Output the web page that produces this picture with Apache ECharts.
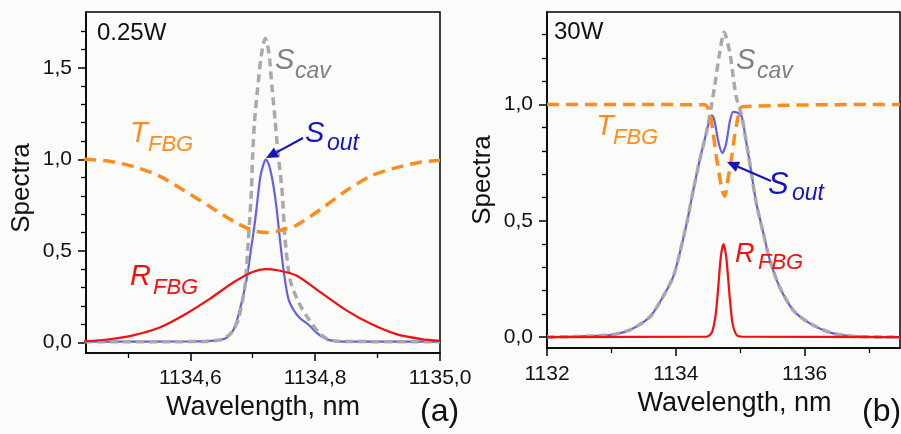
<!DOCTYPE html>
<html><head><meta charset="utf-8">
<script src="https://cdn.jsdelivr.net/npm/echarts@6/dist/echarts.min.js"></script>
<style>html,body{margin:0;padding:0;background:#fbfbf9}#c{width:901px;height:434px}</style>
</head><body><div id="c"></div>
<script>
// ---------- Panel (a): 0.25 W ----------
const aFbgWl   = [1134.43, 1134.47, 1134.51, 1134.55, 1134.59, 1134.63, 1134.67, 1134.70, 1134.72, 1134.74, 1134.77, 1134.81, 1134.85, 1134.89, 1134.93, 1134.97, 1135.0];
const aRfbg    = [0.006, 0.017, 0.04, 0.08, 0.15, 0.235, 0.33, 0.385, 0.40, 0.394, 0.365, 0.27, 0.175, 0.10, 0.045, 0.018, 0.008];
const aTfbg    = [1.0, 0.99, 0.96, 0.91, 0.83, 0.745, 0.66, 0.612, 0.60, 0.608, 0.64, 0.73, 0.83, 0.91, 0.955, 0.985, 0.995];
const aOutWl   = [1134.43, 1134.60, 1134.64, 1134.655, 1134.665, 1134.673, 1134.682, 1134.69, 1134.697, 1134.704, 1134.712, 1134.717, 1134.721, 1134.726, 1134.732, 1134.738, 1134.744, 1134.75, 1134.757, 1134.765, 1134.775, 1134.79, 1134.80, 1134.81, 1134.82, 1134.835, 1134.9, 1135.0];
const aSout    = [0.004, 0.005, 0.01, 0.02, 0.045, 0.10, 0.215, 0.34, 0.50, 0.67, 0.90, 0.97, 1.0, 0.97, 0.88, 0.74, 0.55, 0.38, 0.24, 0.18, 0.135, 0.095, 0.06, 0.033, 0.015, 0.006, 0.004, 0.004];
const aCavWl   = [1134.43, 1134.62, 1134.65, 1134.665, 1134.677, 1134.688, 1134.693, 1134.698, 1134.70, 1134.703, 1134.708, 1134.713, 1134.717, 1134.72, 1134.723, 1134.727, 1134.731, 1134.736, 1134.740, 1134.747, 1134.752, 1134.76, 1134.774, 1134.79, 1134.806, 1134.82, 1134.84, 1135.0];
const aScav    = [0.003, 0.005, 0.015, 0.05, 0.125, 0.32, 0.56, 0.83, 1.03, 1.21, 1.39, 1.55, 1.63, 1.66, 1.64, 1.55, 1.39, 1.21, 1.05, 0.83, 0.56, 0.34, 0.216, 0.125, 0.053, 0.018, 0.006, 0.003];

// ---------- Panel (b): 30 W ----------
const bRWl     = [1132, 1134.48, 1134.56, 1134.62, 1134.66, 1134.70, 1134.74, 1134.78, 1134.81, 1134.84, 1134.88, 1134.94, 1135.02, 1137.48];
const bRfbg    = [0, 0.002, 0.02, 0.10, 0.22, 0.35, 0.40, 0.35, 0.26, 0.16, 0.06, 0.01, 0.002, 0];
const bTWl     = [1132, 1134.45, 1134.53, 1134.58, 1134.63, 1134.68, 1134.72, 1134.76, 1134.81, 1134.86, 1134.91, 1134.97, 1135.03, 1137.48];
const bTfbg    = [1, 0.998, 0.96, 0.874, 0.774, 0.688, 0.63, 0.605, 0.68, 0.76, 0.86, 0.95, 0.99, 1];
const bOutWl   = [1132, 1132.5, 1133.0, 1133.3, 1133.6, 1133.8, 1133.96, 1134.06, 1134.17, 1134.27, 1134.37, 1134.475, 1134.53, 1134.56, 1134.6, 1134.66, 1134.72, 1134.78, 1134.84, 1134.89, 1134.95, 1135.02, 1135.08, 1135.15, 1135.25, 1135.36, 1135.46, 1135.61, 1135.82, 1136.08, 1136.44, 1136.85, 1137.48];
const bSout    = [0, 0.003, 0.01, 0.032, 0.087, 0.173, 0.26, 0.36, 0.49, 0.63, 0.76, 0.88, 0.94, 0.953, 0.93, 0.84, 0.79, 0.83, 0.93, 0.968, 0.965, 0.95, 0.86, 0.745, 0.574, 0.445, 0.33, 0.216, 0.116, 0.059, 0.016, 0.002, 0];
const bCavWl   = [1132, 1132.5, 1133.0, 1133.3, 1133.6, 1133.8, 1133.96, 1134.06, 1134.17, 1134.27, 1134.37, 1134.475, 1134.55, 1134.6, 1134.68, 1134.75, 1134.84, 1134.89, 1134.94, 1135.02, 1135.08, 1135.15, 1135.25, 1135.36, 1135.46, 1135.61, 1135.82, 1136.08, 1136.44, 1136.85, 1137.48];
const bScav    = [0, 0.003, 0.01, 0.032, 0.087, 0.173, 0.26, 0.36, 0.49, 0.63, 0.76, 0.88, 0.99, 1.074, 1.22, 1.31, 1.22, 1.12, 1.03, 0.955, 0.86, 0.745, 0.574, 0.445, 0.33, 0.216, 0.116, 0.059, 0.016, 0.002, 0];

// ---------- Ticks ----------
const aXTicks = [1134.6, 1134.8, 1135.0];
const aXTickLabels = ['1134,6', '1134,8', '1135,0'];
const aXMinor = [1134.5, 1134.7, 1134.9];
const aYTicks = [0, 0.5, 1.0, 1.5];
const aYTickLabels = ['0,0', '0,5', '1,0', '1,5'];
const aYMinor = [0.1, 0.2, 0.3, 0.4, 0.6, 0.7, 0.8, 0.9, 1.1, 1.2, 1.3, 1.4, 1.6, 1.7];
const bXTicks = [1132, 1134, 1136];
const bXTickLabels = ['1132', '1134', '1136'];
const bXMinor = [1133, 1135, 1137];
const bYTicks = [0, 0.5, 1.0];
const bYTickLabels = ['0,0', '0,5', '1,0'];
const bYMinor = [0.1, 0.2, 0.3, 0.4, 0.6, 0.7, 0.8, 0.9, 1.1, 1.2, 1.3];

const FONT = '"Liberation Sans", Arial, sans-serif';
const C_OR = '#ff8c1a', C_RED = '#f01010', C_BLUE = '#6262e0', C_GRAY = '#a9a9a9', C_DBLUE = '#1414c0', C_TGRAY = '#808080';

function pairs(xs, ys) { return xs.map((x, i) => [x, ys[i]]); }
function lookup(vals, labels) {
  return v => { let bi = 0, bd = Infinity; vals.forEach((t, i) => { const d = Math.abs(t - v); if (d < bd) { bd = d; bi = i; } }); return labels[bi]; };
}

function xMain(g, min, max, ticks, labels, nameGap, pad, margin) {
  return { type: 'value', gridIndex: g, min, max, position: 'bottom',
    axisLine: { show: true, onZero: false, lineStyle: { color: '#000', width: 1.5 } },
    axisTick: { show: true, customValues: ticks, length: 8, lineStyle: { color: '#000', width: 1.5 } },
    axisLabel: { show: true, customValues: ticks, formatter: lookup(ticks, labels), color: '#111', fontSize: 21, fontFamily: FONT, margin },
    splitLine: { show: false },
    name: 'Wavelength, nm', nameLocation: 'middle', nameGap,
    nameTextStyle: { color: '#111', fontSize: 27, fontFamily: FONT, padding: pad } };
}
function yMain(g, min, max, ticks, labels, nameGap, pad) {
  return { type: 'value', gridIndex: g, min, max, position: 'left',
    axisLine: { show: true, onZero: false, lineStyle: { color: '#000', width: 1.5 } },
    axisTick: { show: true, customValues: ticks, length: 8, lineStyle: { color: '#000', width: 1.5 } },
    axisLabel: { show: true, customValues: ticks, formatter: lookup(ticks, labels), color: '#111', fontSize: 21, fontFamily: FONT, margin: 14 },
    splitLine: { show: false },
    name: 'Spectra', nameLocation: 'middle', nameGap,
    nameTextStyle: { color: '#111', fontSize: 26, fontFamily: FONT, padding: pad } };
}
function minorAxis(g, min, max, ticks, pos) {
  return { type: 'value', gridIndex: g, min, max, position: pos,
    axisLine: { show: false, onZero: false },
    axisTick: { show: true, customValues: ticks, length: 5, lineStyle: { color: '#000', width: 1.3 } },
    axisLabel: { show: false }, splitLine: { show: false } };
}

const aXmin = 1134.433, aXmax = 1135.0, aYmin = -0.058, aYmax = 1.805;
const bXmin = 1132, bXmax = 1137.48, bYmin = -0.047, bYmax = 1.397;

const gridA = { left: 86, top: 12, width: 354, height: 341 };
const gridB = { left: 547, top: 12, width: 353, height: 336 };
const frame = { show: true, borderColor: '#000', borderWidth: 1.5, backgroundColor: 'transparent' };

function line(xi, data, color, width, dash, z) {
  return { type: 'line', xAxisIndex: xi, yAxisIndex: xi, data, showSymbol: false, symbol: 'none',
    smooth: 0.25, z, animation: false,
    lineStyle: { color, width, type: dash || 'solid', cap: 'butt' } };
}

function txt(x, y, s, size, color, italic) {
  return { type: 'text', x: 0, y: 0, z: 100, silent: true,
    style: { x, y, text: s, fill: color, font: (italic ? 'italic ' : '') + size + 'px ' + FONT, align: 'left', verticalAlign: 'middle' } };
}
function arrow(x1, y1, x2, y2, color) {
  const a = Math.atan2(y2 - y1, x2 - x1), L = 12, W = 5.5;
  const c = Math.cos(a), s = Math.sin(a);
  const bx = x2 - L * c, by = y2 - L * s;
  return [
    { type: 'line', z: 100, silent: true, shape: { x1, y1, x2: bx, y2: by }, style: { stroke: color, lineWidth: 2 } },
    { type: 'polygon', z: 100, silent: true, shape: { points: [[x2, y2], [bx - W * s, by + W * c], [bx + W * s, by - W * c]] }, style: { fill: color } }
  ];
}

const graphics = [
  txt(97, 33.5, '0.25W', 24, '#111', false),
  txt(554, 32.5, '30W', 24, '#111', false),
  // panel a labels
  txt(275, 61, 'S', 29, C_TGRAY, true), txt(295, 72, 'cav', 23, C_TGRAY, true),
  txt(305, 134, 'S', 29, C_DBLUE, true), txt(327, 144, 'out', 23, C_DBLUE, true),
  txt(130, 134, 'T', 29, C_OR, true), txt(148, 145, 'FBG', 22, C_OR, true),
  txt(130, 277, 'R', 29, C_RED, true), txt(153, 288, 'FBG', 22, C_RED, true),
  // panel b labels
  txt(736, 61, 'S', 29, C_TGRAY, true), txt(757, 72, 'cav', 23, C_TGRAY, true),
  txt(596, 127, 'T', 29, C_OR, true), txt(613, 138, 'FBG', 22, C_OR, true),
  txt(768, 185, 'S', 31, C_DBLUE, true), txt(792, 194, 'out', 23, C_DBLUE, true),
  txt(735, 254, 'R', 27, C_RED, true), txt(758, 263, 'FBG', 22, C_RED, true),
  txt(420, 412, '(a)', 32, '#111', false),
  txt(862, 412, '(b)', 32, '#111', false),
  ...arrow(303, 138, 266, 158, C_DBLUE),
  ...arrow(771, 181, 727, 162, C_DBLUE)
];

const chart = echarts.init(document.getElementById('c'), null, { renderer: 'canvas' });
chart.setOption({
  backgroundColor: '#fbfbf9',
  animation: false,
  grid: [
    Object.assign({}, gridA, frame), Object.assign({}, gridB, frame),
    Object.assign({}, gridA, { show: false }), Object.assign({}, gridB, { show: false })
  ],
  xAxis: [
    xMain(0, aXmin, aXmax, aXTicks, aXTickLabels, 35, [0, 0, 0, 0], 15),
    xMain(1, bXmin, bXmax, bXTicks, bXTickLabels, 40, [0, 0, 0, 22], 16),
    minorAxis(2, aXmin, aXmax, aXMinor, 'bottom'),
    minorAxis(3, bXmin, bXmax, bXMinor, 'bottom')
  ],
  yAxis: [
    yMain(0, aYmin, aYmax, aYTicks, aYTickLabels, 51, [0, 11, 0, 0]),
    yMain(1, bYmin, bYmax, bYTicks, bYTickLabels, 51, [0, 0, 0, 0]),
    minorAxis(2, aYmin, aYmax, aYMinor, 'left'),
    minorAxis(3, bYmin, bYmax, bYMinor, 'left')
  ],
  series: [
    line(0, pairs(aOutWl, aSout), C_BLUE, 2.2, null, 2),
    line(0, pairs(aCavWl, aScav), C_GRAY, 3.5, [8, 5], 3),
    line(0, pairs(aFbgWl, aRfbg), C_RED, 2.2, null, 4),
    line(0, pairs(aFbgWl, aTfbg), C_OR, 3.5, [12, 7], 5),
    line(1, pairs(bOutWl, bSout), C_BLUE, 2.2, null, 2),
    line(1, pairs(bCavWl, bScav), C_GRAY, 3.5, [8, 5], 3),
    line(1, pairs(bRWl, bRfbg), C_RED, 2.2, null, 4),
    line(1, pairs(bTWl, bTfbg), C_OR, 3.5, [12, 7], 5)
  ],
  graphic: graphics
});
</script>
</body></html>
